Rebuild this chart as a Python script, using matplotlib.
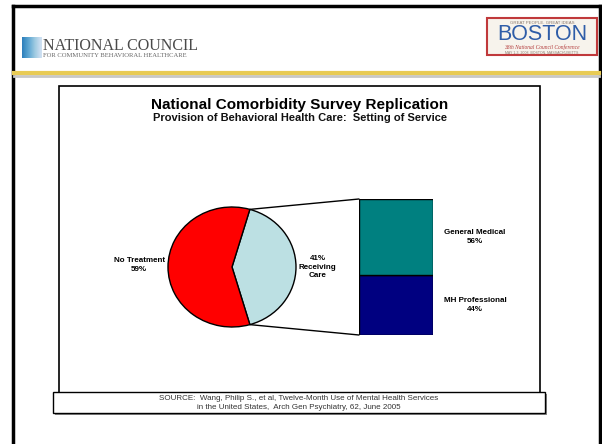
import matplotlib.pyplot as plt
from matplotlib.patches import Rectangle, ConnectionPatch
import numpy as np

# ============================
# Data
# ============================

pie_labels = ["41%\nReceiving\nCare", "No Treatment\n59%"]
pie_values = [41, 59]
pie_colors = ["#BCE0E3", "#FF0000"]

bar_labels = ["MH Professional\n44%", "General Medical\n56%"]
bar_values = [44, 56]
bar_colors = ["#000080", "#008080"]

title = "National Comorbidity Survey Replication"
subtitle = "Provision of Behavioral Health Care:  Setting of Service"
source = ("SOURCE:  Wang, Philip S., et al, Twelve-Month Use of Mental Health Services\n"
          "in the United States,  Arch Gen Psychiatry, 62, June 2005")

plt.rcParams["font.family"] = ["Liberation Sans", "DejaVu Sans"]

W, H = 602, 444
fig = plt.figure(figsize=(W / 100, H / 100), dpi=100)


def fig_box(x0, y0, x1, y1):
    # pixel box (top-left origin) -> figure fraction
    return [x0 / W, 1 - y1 / H, (x1 - x0) / W, (y1 - y0) / H]


# ============================
# Slide background / header
# ============================

bg = fig.add_axes([0, 0, 1, 1])
bg.set_xlim(0, W)
bg.set_ylim(H, 0)
bg.axis("off")

# outer frame
bg.plot([13, 13], [6, H], color="black", lw=2.5)
bg.plot([13, 600], [6, 6], color="black", lw=2.5)
bg.plot([600, 600], [6, H], color="black", lw=2.5)

# header rule
bg.plot([14, 599], [76, 76], color="#C8C8C8", lw=2.0)
bg.plot([14, 599], [73.5, 73.5], color="#E8CB55", lw=3.0)

# National Council logo
grad = np.linspace(0, 1, 50).reshape(1, -1)
bg.imshow(grad, extent=[22, 42, 58, 37], cmap="Blues_r", vmin=-0.6, vmax=1.4,
          aspect="auto", zorder=2)
bg.text(43, 50, "NATIONAL COUNCIL", family="Liberation Serif", fontsize=11.5,
        color="#4A4A4A", va="baseline", ha="left")
bg.text(43, 57, "FOR COMMUNITY BEHAVIORAL HEALTHCARE", family="Liberation Serif",
        fontsize=4.8, color="#666666", va="baseline", ha="left")

# Boston logo
bg.add_patch(Rectangle((487, 18), 110, 37, facecolor="#F7F3EC",
                       edgecolor="#C0393B", lw=1.5))
bg.text(542, 22.5, "GREAT PEOPLE. GREAT IDEAS", fontsize=3.2, color="#8C7B70",
        ha="center", va="center")
bg.text(542, 40.5, "BOSTON", fontsize=15.5, color="#2F5DA8", ha="center",
        va="baseline")
bg.text(542, 47, "38th National Council Conference", family="Liberation Serif",
        style="italic", fontsize=4.0, color="#B23A3A", ha="center", va="center")
bg.text(542, 52.3, "MAY 1-3, 2008  BOSTON, MASSACHUSETTS", fontsize=2.5,
        color="#8C7B70", ha="center", va="center")

# chart frame
bg.add_patch(Rectangle((59, 86), 481, 307, facecolor="white",
                       edgecolor="black", lw=1.2))

bg.text(300, 104.5, title, fontsize=11, fontweight="bold", ha="center",
        va="center")
bg.text(300, 117.5, subtitle, fontsize=8, fontweight="bold", ha="center",
        va="center", color="#111111")

# source box
bg.add_patch(Rectangle((54.5, 393.5), 492, 21, facecolor="#8A8A8A",
                       edgecolor="none"))
bg.add_patch(Rectangle((53, 392), 492, 21, facecolor="white",
                       edgecolor="black", lw=1.0))
bg.text(299, 403, source, fontsize=5.8, color="#333333", ha="center",
        va="center", linespacing=1.3)

# ============================
# Pie
# ============================

ax_pie = fig.add_axes(fig_box(168, 207, 296, 327))
start = -pie_values[0] / 100 * 360 / 2
wedges, _ = ax_pie.pie(pie_values, colors=pie_colors, startangle=start,
                       counterclock=True,
                       wedgeprops=dict(edgecolor="black", linewidth=1.0))
ax_pie.set_aspect("auto")
ax_pie.set_xlim(-1, 1)
ax_pie.set_ylim(-1, 1)

ax_pie.text(1.34, 0.0, pie_labels[0], fontsize=5.8, fontweight="bold",
            ha="center", va="center", linespacing=1.3, clip_on=False)
ax_pie.text(-1.45, 0.03, pie_labels[1], fontsize=5.8, fontweight="bold",
            ha="center", va="center", linespacing=1.5, clip_on=False)

# ============================
# Stacked bar
# ============================

ax_bar = fig.add_axes(fig_box(359, 199, 433, 335))
bottom = 0
for val, col, lab in zip(bar_values, bar_colors, bar_labels):
    ax_bar.bar(0, val, width=1, bottom=bottom, color=col, edgecolor="black",
               linewidth=1.0)
    ax_bar.text(1.07, bottom + val / 2, lab, fontsize=5.8, fontweight="bold",
                ha="center", va="center", linespacing=1.5, clip_on=False)
    bottom += val
ax_bar.set_xlim(-0.5, 0.5)
ax_bar.set_ylim(0, sum(bar_values))
ax_bar.axis("off")

# connector lines from the receiving-care wedge to the bar
theta = np.deg2rad(-start)
for sign, ybar in [(1, sum(bar_values)), (-1, 0)]:
    con = ConnectionPatch(xyA=(np.cos(theta), sign * np.sin(theta)),
                          coordsA=ax_pie.transData,
                          xyB=(-0.5, ybar), coordsB=ax_bar.transData,
                          color="black", lw=1.0)
    fig.add_artist(con)

fig.savefig("out.png", dpi=100)
